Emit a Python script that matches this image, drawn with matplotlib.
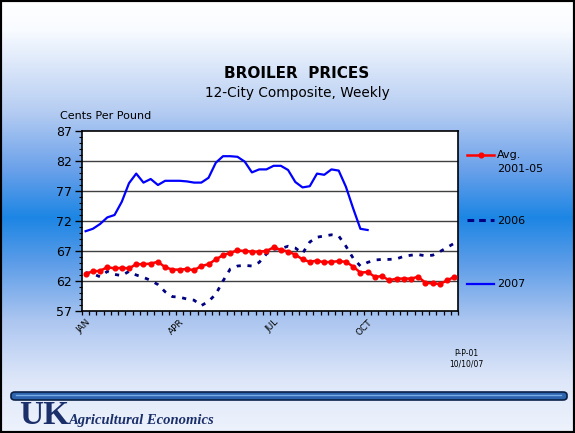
import numpy as np
import matplotlib
matplotlib.use('Agg')
import matplotlib.pyplot as plt
from matplotlib.lines import Line2D
from matplotlib.patches import Rectangle, FancyBboxPatch
from matplotlib.ticker import MultipleLocator

# weekly 12-city composite broiler prices, cents per pound
weeks = np.arange(52)
month_pos = [0, 13, 26, 39]
month_labels = ['JAN', 'APR', 'JUL', 'OCT']

avg_2001_05 = [63.2, 63.6, 63.7, 64.3, 64.1, 64.2, 64.1, 64.8, 64.8, 64.9,
               65.2, 64.3, 63.9, 63.9, 64.0, 63.8, 64.5, 64.8, 65.6, 66.3,
               66.7, 67.1, 67.0, 66.9, 66.9, 67.0, 67.6, 67.2, 66.9, 66.4,
               65.6, 65.2, 65.4, 65.1, 65.2, 65.3, 65.2, 64.4, 63.4, 63.5,
               62.7, 62.8, 62.1, 62.4, 62.4, 62.4, 62.7, 61.7, 61.6, 61.5,
               62.1, 62.7]
prices_2006 = [63.4, 63.2, 62.7, 63.6, 63.1, 62.9, 63.6, 63.0, 62.6, 62.1,
               61.4, 60.2, 59.4, 59.3, 59.0, 58.8, 57.9, 58.6, 59.8, 62.0,
               64.0, 64.5, 64.6, 64.5, 65.1, 66.5, 67.3, 67.4, 67.8, 67.5,
               66.6, 68.5, 69.3, 69.5, 69.7, 69.5, 67.8, 65.8, 64.5, 65.1,
               65.5, 65.6, 65.6, 65.7, 66.1, 66.3, 66.4, 66.2, 66.3, 66.9,
               67.6, 68.3]
prices_2007 = [70.3, 70.7, 71.5, 72.6, 73.0, 75.2, 78.3, 79.9, 78.4, 79.0,
               78.0, 78.7, 78.7, 78.7, 78.6, 78.4, 78.4, 79.2, 81.7, 82.8,
               82.8, 82.7, 81.9, 80.1, 80.6, 80.6, 81.2, 81.2, 80.5, 78.5,
               77.6, 77.8, 79.9, 79.7, 80.6, 80.4, 77.7, 74.1, 70.7, 70.5]

W, H = 575, 433
fig = plt.figure(figsize=(W / 100, H / 100), dpi=100)

# slide background: white at top, deep blue band in the middle, pale at the bottom
stops_y = [0, 30, 110, 170, 217, 262, 320, 380, 433]
stops_rgb = np.array([[255, 255, 255], [248, 251, 255], [182, 205, 242],
                      [105, 160, 234], [28, 134, 228], [92, 156, 232],
                      [172, 198, 240], [222, 231, 249], [238, 243, 252]]) / 255
rows = np.arange(H)
grad = np.stack([np.interp(rows, stops_y, stops_rgb[:, k]) for k in range(3)], axis=-1)
bg = fig.add_axes([0, 0, 1, 1], zorder=0)
bg.imshow(grad[:, None, :], aspect='auto', extent=[0, 1, 0, 1])
bg.axis('off')


def fx(px):
    return px / W


def fy(py):
    return 1 - py / H


DASH_2006 = (0, (1.5, 2.4))

ax = fig.add_axes([fx(82), fy(311), fx(458) - fx(82), fy(131) - fy(311)], zorder=2)
ax.set_facecolor('white')

ax.plot(weeks, prices_2006, color='#000080', lw=2.0, linestyle=DASH_2006,
        dash_capstyle='butt', zorder=3)
ax.plot(weeks, avg_2001_05, color='#ff0000', lw=1.8, marker='o', markersize=3.4,
        zorder=4)
ax.plot(np.arange(len(prices_2007)), prices_2007, color='#0000ff', lw=1.6, zorder=5)

ax.set_xlim(-0.5, 51.5)
ax.set_ylim(57, 87)
ax.set_yticks(range(57, 88, 5))
ax.yaxis.set_minor_locator(MultipleLocator(1))
ax.set_xticks(month_pos)
ax.set_xticklabels(month_labels, rotation=45, ha='right', va='top',
                   rotation_mode='anchor', fontsize=6.5)
ax.set_xticks(np.arange(-0.5, 52, 1), minor=True)
ax.tick_params(axis='x', which='major', length=0, pad=5)
ax.tick_params(axis='x', which='minor', length=3, width=0.9, direction='out')
ax.tick_params(axis='y', which='major', length=5, width=1, labelsize=9, pad=2)
ax.tick_params(axis='y', which='minor', length=2.5, width=0.8)
for sp in ax.spines.values():
    sp.set_linewidth(1.2)
    sp.set_color('black')
for v in range(62, 83, 5):
    ax.axhline(v, color='#404040', lw=1.0, zorder=1)

# legend keys beside the plot
def key(y, **style):
    fig.add_artist(Line2D([fx(467), fx(494)], [fy(y), fy(y)], **style))

key(155, color='#ff0000', lw=1.8)
fig.add_artist(Line2D([fx(480.5)], [fy(155)], color='#ff0000', marker='o',
                      markersize=3.4, lw=0))
key(220, color='#000080', lw=2.2, linestyle=(0, (2.2, 1.6)), dash_capstyle='butt')
key(284, color='#0000ff', lw=1.6)
fig.text(fx(497), fy(155), 'Avg.', fontsize=8, va='center')
fig.text(fx(497), fy(169), '2001-05', fontsize=8, va='center')
fig.text(fx(497), fy(220.5), '2006', fontsize=8, va='center')
fig.text(fx(497), fy(284), '2007', fontsize=8, va='center')

fig.text(fx(297), fy(73), 'BROILER  PRICES', fontsize=11, fontweight='bold',
         ha='center', va='center')
fig.text(fx(297), fy(93), '12-City Composite, Weekly', fontsize=9.8,
         ha='center', va='center')
fig.text(fx(60), fy(116), 'Cents Per Pound', fontsize=8, va='center')

fig.text(fx(466), fy(354), 'P-P-01', fontsize=5.5, ha='center', va='center')
fig.text(fx(466), fy(364), '10/10/07', fontsize=5.5, ha='center', va='center')

# footer bar and department mark
fig.add_artist(FancyBboxPatch((fx(11), fy(400)), fx(556), 8 / H,
                              boxstyle='round,pad=0,rounding_size=0.007',
                              transform=fig.transFigure, facecolor='#2e64ad',
                              edgecolor='#0b2248', lw=1.2, zorder=3))
fig.add_artist(Line2D([fx(16), fx(561)], [fy(395), fy(395)],
                      color='#7aaee6', lw=1.0, zorder=4))
fig.text(fx(19), fy(424), 'UK', fontsize=24, fontweight='bold',
         family='Liberation Serif', color='#1b2f6a', va='baseline')
fig.text(fx(69), fy(424), 'Agricultural Economics', fontsize=10.5,
         fontweight='bold', style='italic', family='Liberation Serif',
         color='#1b2f6a', va='baseline')

fig.add_artist(Rectangle((0, 0), 1, 1, transform=fig.transFigure, fill=False,
                         lw=3, edgecolor='black', zorder=10))

fig.savefig('out.png', dpi=100)
